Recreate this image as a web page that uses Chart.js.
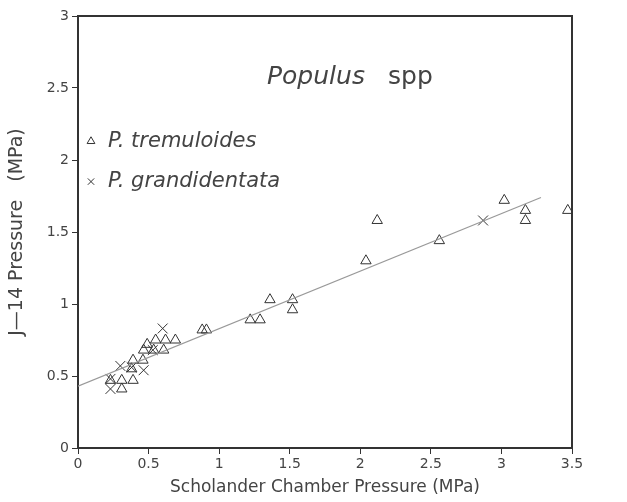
<!DOCTYPE html>
<html>
<head>
<meta charset="UTF-8">
<script src="https://cdn.jsdelivr.net/npm/chart.js@4.4.0/dist/chart.umd.min.js"></script>
<style>
  html, body { margin: 0; padding: 0; background: #fff; }
  #wrap { width: 627px; height: 502px; }
</style>
</head>
<body>
<div id="wrap"><canvas id="myChart"></canvas></div>
<script>
// P. tremuloides (triangles)
const tremX = [0.23, 0.31, 0.39, 0.31, 0.38, 0.39, 0.46, 0.465, 0.536, 0.607, 0.55, 0.62, 0.69, 0.49,
               0.88, 0.91, 1.22, 1.29, 1.36, 1.52, 1.52, 2.04, 2.12, 2.56, 3.02, 3.17, 3.17, 3.47];
const tremY = [0.47, 0.47, 0.47, 0.41, 0.55, 0.61, 0.61, 0.68, 0.68, 0.68, 0.75, 0.75, 0.75, 0.72,
               0.82, 0.82, 0.89, 0.89, 1.03, 1.03, 0.96, 1.30, 1.58, 1.44, 1.72, 1.65, 1.58, 1.65];
// P. grandidentata (crosses)
const grandX = [0.23, 0.23, 0.30, 0.38, 0.465, 0.53, 0.60, 2.87];
const grandY = [0.41, 0.48, 0.57, 0.56, 0.54, 0.68, 0.83, 1.58];
// regression line
const fitX = [0, 3.28];
const fitY = [0.43, 1.74];

const xTicks = ['0', '0.5', '1', '1.5', '2', '2.5', '3', '3.5'];
const yTicks = ['0', '0.5', '1', '1.5', '2', '2.5', '3'];

const toPts = (xs, ys) => xs.map((x, i) => ({ x: x, y: ys[i] }));
const ink = '#333';
const txt = '#444';
const font = 'DejaVu Sans';

const extras = {
  id: 'extras',
  afterDraw(chart) {
    const c = chart.ctx, a = chart.chartArea;
    const xs = chart.scales.x, ys = chart.scales.y;
    c.save();
    // frame top + right
    c.strokeStyle = ink;
    c.lineWidth = 2;
    c.beginPath();
    c.moveTo(a.left, a.top); c.lineTo(a.right, a.top); c.lineTo(a.right, a.bottom);
    c.stroke();
    // title
    c.fillStyle = txt;
    c.textBaseline = 'alphabetic';
    c.font = 'italic 25px ' + font;
    const ty = ys.getPixelForValue(2.53);
    c.fillText('Populus', 267, ty);
    c.font = '25px ' + font;
    c.fillText('spp', 388, ty);
    // legend
    const mx = a.left + 13;
    const rows = [
      { y: ys.getPixelForValue(2.13), label: 'P. tremuloides', style: 'triangle' },
      { y: ys.getPixelForValue(1.85), label: 'P. grandidentata', style: 'crossRot' }
    ];
    rows.forEach(r => {
      c.strokeStyle = ink;
      c.fillStyle = 'rgba(0,0,0,0)';
      c.lineWidth = 1;
      Chart.helpers.drawPoint(c, { pointStyle: r.style, radius: 4.5, borderWidth: 1 }, mx, r.y);
      c.fillStyle = txt;
      c.font = 'italic 21px ' + font;
      c.textBaseline = 'middle';
      c.fillText(r.label, a.left + 30, r.y);
    });
    c.restore();
  }
};

new Chart(document.getElementById('myChart'), {
  type: 'scatter',
  data: {
    datasets: [
      {
        label: 'fit',
        data: toPts(fitX, fitY),
        showLine: true,
        pointRadius: 0,
        borderColor: '#999',
        borderWidth: 1.2
      },
      {
        label: 'P. tremuloides',
        data: toPts(tremX, tremY),
        pointStyle: 'triangle',
        pointRadius: 6,
        backgroundColor: 'transparent',
        borderColor: ink,
        borderWidth: 1
      },
      {
        label: 'P. grandidentata',
        data: toPts(grandX, grandY),
        pointStyle: 'crossRot',
        pointRadius: 7,
        backgroundColor: 'transparent',
        borderColor: ink,
        borderWidth: 1
      }
    ]
  },
  options: {
    responsive: true,
    maintainAspectRatio: false,
    animation: false,
    layout: { padding: { top: 16, right: 55, left: 0, bottom: 0 } },
    plugins: { legend: { display: false }, tooltip: { enabled: false } },
    scales: {
      x: {
        min: 0, max: 3.5,
        ticks: {
          stepSize: 0.5, color: txt, font: { family: font, size: 14 }, padding: 2,
          maxRotation: 0, autoSkip: false,
          callback: (v, i) => xTicks[i]
        },
        grid: { drawOnChartArea: false, drawTicks: true, tickLength: 6, color: ink, lineWidth: 1 },
        border: { display: true, color: ink, width: 2 },
        title: { display: true, text: 'Scholander Chamber Pressure (MPa)', color: txt, font: { family: font, size: 17 }, padding: { top: 0 } },
        afterFit: s => { s.height = 54; }
      },
      y: {
        min: 0, max: 3,
        ticks: {
          stepSize: 0.5, color: txt, font: { family: font, size: 14 }, padding: 3,
          autoSkip: false,
          callback: (v, i) => yTicks[i]
        },
        grid: { drawOnChartArea: false, drawTicks: true, tickLength: 6, color: ink, lineWidth: 1 },
        border: { display: true, color: ink, width: 2 },
        title: { display: true, text: 'J\u201414 Pressure   (MPa)', color: txt, font: { family: font, size: 19 }, padding: { bottom: 0, top: 6 } },
        afterFit: s => { s.width = 78; }
      }
    }
  },
  plugins: [extras]
});
</script>
</body>
</html>
